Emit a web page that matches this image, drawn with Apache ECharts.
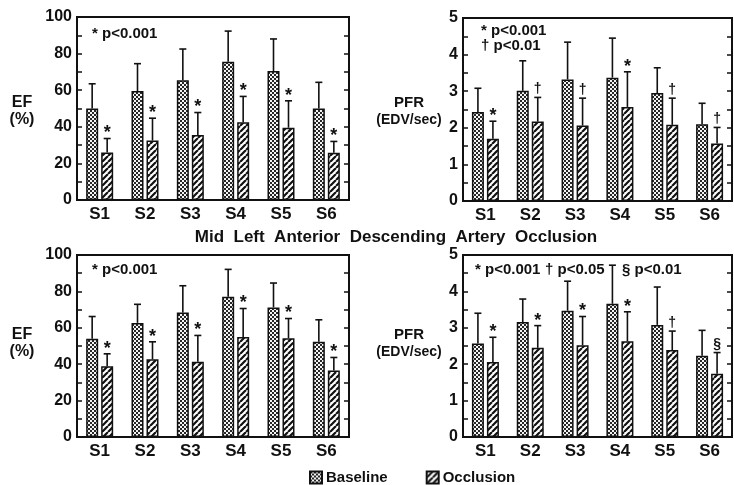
<!DOCTYPE html>
<html>
<head>
<meta charset="utf-8">
<title>EF / PFR baseline vs occlusion</title>
<script src="https://cdn.jsdelivr.net/npm/echarts@6/dist/echarts.min.js"></script>
<style>
  html, body { margin: 0; padding: 0; background: #fff; }
  #main { width: 734px; height: 485px; }
</style>
</head>
<body>
<div id="main"></div>
<script>
const categories = ['S1', 'S2', 'S3', 'S4', 'S5', 'S6']

// top row
const efBaseTop = [50, 59.5, 65.5, 75.5, 70.5, 50]
const efBaseTopErr = [63.5, 74.5, 82.5, 92.3, 88, 64.3]
const efOccTop = [26, 32.5, 35.5, 42.5, 39.5, 25.8]
const efOccTopErr = [33.6, 44.7, 47.8, 56.6, 54.2, 32]
const efMarksTop = ['*', '*', '*', '*', '*', '*']

const pfrBaseTop = [2.43, 3.01, 3.32, 3.37, 2.95, 2.1]
const pfrBaseTopErr = [3.08, 3.83, 4.34, 4.45, 3.64, 2.67]
const pfrOccTop = [1.7, 2.17, 2.06, 2.57, 2.08, 1.57]
const pfrOccTopErr = [2.18, 2.83, 2.81, 3.53, 2.81, 2.01]
const pfrMarksTop = ['*', '†', '†', '*', '†', '†']

// bottom row
const efBaseBot = [54, 62.7, 68.4, 77, 71.2, 52.3]
const efBaseBotErr = [66.2, 72.9, 83.1, 92.1, 84.6, 64.4]
const efOccBot = [38.9, 42.7, 41.3, 54.9, 54.3, 36.5]
const efOccBotErr = [45.7, 52.3, 55.8, 70.6, 65.1, 43.7]
const efMarksBot = ['*', '*', '*', '*', '*', '*']

const pfrBaseBot = [2.57, 3.16, 3.47, 3.66, 3.08, 2.23]
const pfrBaseBotErr = [3.4, 3.79, 4.28, 4.72, 4.12, 2.93]
const pfrOccBot = [2.06, 2.45, 2.52, 2.63, 2.39, 1.74]
const pfrOccBotErr = [2.74, 3.06, 3.31, 3.44, 2.91, 2.32]
const pfrMarksBot = ['*', '*', '*', '*', '†', '§']

const INK = '#111'
const FONT = '"Liberation Sans", Arial, sans-serif'

// dotted fill for baseline bars
function dotPattern() {
  const c = document.createElement('canvas')
  c.width = 4
  c.height = 4
  const ctx = c.getContext('2d')
  ctx.fillStyle = '#f4f4f4'
  ctx.fillRect(0, 0, 4, 4)
  ctx.fillStyle = '#262626'
  ctx.fillRect(0, 0, 2, 2)
  ctx.fillRect(2, 2, 2, 2)
  return c
}

// diagonal hatch for occlusion bars
function hatchPattern() {
  const s = 6
  const c = document.createElement('canvas')
  c.width = s
  c.height = s
  const ctx = c.getContext('2d')
  ctx.fillStyle = '#fff'
  ctx.fillRect(0, 0, s, s)
  ctx.strokeStyle = INK
  ctx.lineWidth = 2.2
  ctx.beginPath()
  for (const k of [-s, 0, s]) {
    ctx.moveTo(k, s)
    ctx.lineTo(k + s, 0)
  }
  ctx.stroke()
  return c
}

const dotFill = { image: dotPattern(), repeat: 'repeat' }
const hatchFill = { image: hatchPattern(), repeat: 'repeat' }

const grids = [
  { left: 77, top: 17, width: 272, height: 183 },
  { left: 463, top: 18, width: 269, height: 183 },
  { left: 77, top: 255, width: 272, height: 182 },
  { left: 463, top: 255, width: 269, height: 182 }
]

const panels = [
  { max: 100, interval: 20, base: efBaseTop, baseErr: efBaseTopErr, occ: efOccTop, occErr: efOccTopErr, marks: efMarksTop },
  { max: 5, interval: 1, base: pfrBaseTop, baseErr: pfrBaseTopErr, occ: pfrOccTop, occErr: pfrOccTopErr, marks: pfrMarksTop },
  { max: 100, interval: 20, base: efBaseBot, baseErr: efBaseBotErr, occ: efOccBot, occErr: efOccBotErr, marks: efMarksBot },
  { max: 5, interval: 1, base: pfrBaseBot, baseErr: pfrBaseBotErr, occ: pfrOccBot, occErr: pfrOccBotErr, marks: pfrMarksBot }
]

const BAR_W = 12
const BAR_GAP = 3
const OFFSET = (BAR_W + BAR_GAP) / 2

// error bar (upward only) with optional significance mark on top
function errRender(offset, marks) {
  return function (params, api) {
    const i = api.value(0)
    const top = api.coord([i, api.value(1)])
    const base = api.coord([i, api.value(2)])
    const x = top[0] + offset
    const children = [
      { type: 'line', shape: { x1: x, y1: base[1], x2: x, y2: top[1] }, style: { stroke: INK, lineWidth: 1.6 } },
      { type: 'line', shape: { x1: x - 3.5, y1: top[1], x2: x + 3.5, y2: top[1] }, style: { stroke: INK, lineWidth: 1.6 } }
    ]
    if (marks) {
      const m = marks[i]
      const star = m === '*'
      children.push({
        type: 'text',
        style: {
          text: m,
          x: x,
          y: top[1] + (star ? 4 : -1),
          align: 'center',
          verticalAlign: 'bottom',
          font: 'bold ' + (star ? 18 : 14) + 'px ' + FONT,
          fill: INK
        }
      })
    }
    return { type: 'group', children }
  }
}

const xAxis = []
const yAxis = []
const series = []

panels.forEach((p, g) => {
  xAxis.push({
    type: 'category',
    gridIndex: g,
    data: categories,
    axisLine: { lineStyle: { color: INK, width: 2 } },
    axisTick: { show: false },
    axisLabel: { color: INK, fontSize: 17, fontWeight: 'bold', fontFamily: FONT, margin: 6 }
  })
  const yCommon = {
    type: 'value',
    gridIndex: g,
    min: 0,
    max: p.max,
    interval: p.interval,
    splitLine: { show: false },
    axisLine: { show: true, lineStyle: { color: INK, width: 2 } },
    axisTick: { show: true, inside: true, length: 5, lineStyle: { color: INK, width: 1.5 } },
    minorTick: { show: true, splitNumber: 2, length: 5, lineStyle: { color: INK, width: 1.5 } }
  }
  yAxis.push(Object.assign({}, yCommon, {
    position: 'left',
    axisLabel: { color: INK, fontSize: 16, fontWeight: 'bold', fontFamily: FONT, margin: 5 }
  }))
  yAxis.push(Object.assign({}, yCommon, {
    position: 'right',
    axisLabel: { show: false }
  }))

  const yIdx = g * 2
  series.push({
    name: 'Baseline',
    type: 'bar',
    xAxisIndex: g,
    yAxisIndex: yIdx,
    data: p.base,
    barWidth: BAR_W,
    barGap: (BAR_GAP / BAR_W * 100) + '%',
    itemStyle: { color: dotFill, borderColor: INK, borderWidth: 1.5 },
    silent: true
  })
  series.push({
    name: 'Occlusion',
    type: 'bar',
    xAxisIndex: g,
    yAxisIndex: yIdx,
    data: p.occ,
    barWidth: BAR_W,
    itemStyle: { color: hatchFill, borderColor: INK, borderWidth: 1.5 },
    silent: true
  })
  series.push({
    type: 'custom',
    xAxisIndex: g,
    yAxisIndex: yIdx,
    renderItem: errRender(-OFFSET, null),
    data: categories.map((c, i) => [i, p.baseErr[i], p.base[i]]),
    encode: { x: 0, y: 1 },
    z: 3,
    silent: true
  })
  series.push({
    type: 'custom',
    xAxisIndex: g,
    yAxisIndex: yIdx,
    renderItem: errRender(OFFSET, p.marks),
    data: categories.map((c, i) => [i, p.occErr[i], p.occ[i]]),
    encode: { x: 0, y: 1 },
    z: 3,
    silent: true
  })
})

function label(text, x, y, size, align) {
  return {
    type: 'text',
    x: x,
    y: y,
    style: {
      text: text,
      font: 'bold ' + size + 'px ' + FONT,
      fill: INK,
      align: align || 'center',
      verticalAlign: 'middle'
    }
  }
}

const graphic = [
  // y axis names
  label('EF', 22, 103, 16),
  label('(%)', 22, 120, 16),
  label('PFR', 409, 103, 15),
  label('(EDV/sec)', 409, 120, 14),
  label('EF', 22, 335, 16),
  label('(%)', 22, 352, 16),
  label('PFR', 409, 335, 15),
  label('(EDV/sec)', 409, 352, 14),
  // significance keys
  label('* p<0.001', 92, 34, 15, 'left'),
  label('* p<0.001', 481, 31, 15, 'left'),
  label('† p<0.01', 481, 46, 15, 'left'),
  label('* p<0.001', 92, 270, 15, 'left'),
  label('* p<0.001', 475, 270, 15, 'left'),
  label('† p<0.05', 545, 270, 15, 'left'),
  label('§ p<0.01', 622, 270, 15, 'left'),
  // middle heading
  label('Mid  Left  Anterior  Descending  Artery  Occlusion', 396, 237, 17)
]

const chart = echarts.init(document.getElementById('main'), null, { renderer: 'canvas' })
chart.setOption({
  animation: false,
  backgroundColor: '#fff',
  grid: grids.map(g => Object.assign({ show: true, borderColor: INK, borderWidth: 2, backgroundColor: 'transparent' }, g)),
  legend: {
    data: ['Baseline', 'Occlusion'],
    left: 304,
    top: 465,
    icon: 'rect',
    itemWidth: 12,
    itemHeight: 12,
    itemGap: 38,
    selectedMode: false,
    textStyle: { color: INK, fontSize: 15, fontWeight: 'bold', fontFamily: FONT, padding: [0, 0, 0, -1] }
  },
  xAxis: xAxis,
  yAxis: yAxis,
  series: series,
  graphic: graphic
})
</script>
</body>
</html>
